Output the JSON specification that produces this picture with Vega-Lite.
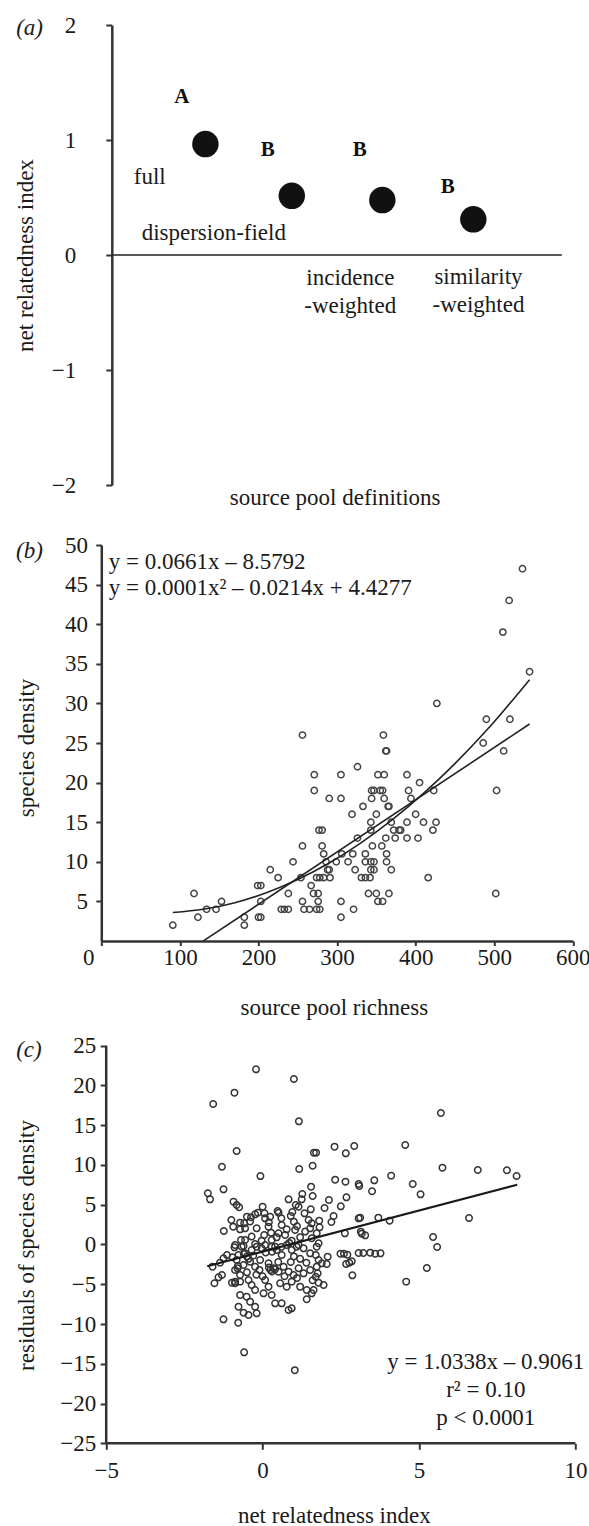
{
  "$schema": "https://vega.github.io/schema/vega-lite/v6.json",
  "autosize": {"type": "pad"},
  "padding": {"left": 14.3, "top": 14, "right": 0, "bottom": 0},
  "background": "white",
  "bounds": "flush",
  "spacing": 60,
  "config": {
    "font": "Liberation Serif",
    "view": {"stroke": null},
    "axis": {
      "labelFont": "Liberation Serif", "titleFont": "Liberation Serif",
      "labelFontSize": 23, "titleFontSize": 23, "titleFontWeight": "normal",
      "labelColor": "#1a1a1a", "titleColor": "#1a1a1a", "domainColor": "#333", "tickColor": "#333",
      "grid": false, "labelFlush": false, "labelOverlap": false
    },
    "text": {"font": "Liberation Serif", "color": "#1a1a1a"}
  },
  "datasets": {
    "a_points": [
      {"x": 1.04, "y": 0.965}, {"x": 2.0, "y": 0.515}, {"x": 3.006, "y": 0.478}, {"x": 4.017, "y": 0.31}
    ],
    "a_letters": [
      {"x": 0.778, "y": 1.374, "t": "A"}, {"x": 1.733, "y": 0.913, "t": "B"},
      {"x": 2.756, "y": 0.913, "t": "B"}, {"x": 3.733, "y": 0.591, "t": "B"}
    ],
    "a_labels": [
      {"x": 0.422, "y": 0.678, "t": "full"}, {"x": 1.133, "y": 0.191, "t": "dispersion-field"},
      {"x": 2.651, "y": -0.2, "t": "incidence"}, {"x": 2.649, "y": -0.443, "t": "-weighted"},
      {"x": 4.074, "y": -0.191, "t": "similarity"}, {"x": 4.074, "y": -0.435, "t": "-weighted"}
    ],
    "a_tag": [{"x": -1.063, "y": 1.974, "t": "(a)"}],
    "b_points": [
      {"x":91,"y":2},{"x":118,"y":6},{"x":123,"y":3},{"x":134,"y":4},{"x":146,"y":4},{"x":153,"y":5},{"x":182,"y":3},{"x":182,"y":2},
      {"x":199,"y":7},{"x":203,"y":7},{"x":200,"y":3},{"x":203,"y":3},{"x":203,"y":5},{"x":215,"y":9},{"x":225,"y":8},{"x":229,"y":4},
      {"x":233,"y":4},{"x":238,"y":4},{"x":238,"y":6},{"x":244,"y":10},{"x":254,"y":8},{"x":256,"y":5},{"x":256,"y":12},{"x":256,"y":26},
      {"x":258,"y":4},{"x":265,"y":4},{"x":267,"y":7},{"x":270,"y":6},{"x":271,"y":21},{"x":271,"y":19},{"x":274,"y":4},{"x":274,"y":8},
      {"x":276,"y":5},{"x":276,"y":6},{"x":278,"y":4},{"x":277,"y":14},{"x":281,"y":14},{"x":278,"y":8},{"x":281,"y":12},{"x":283,"y":11},
      {"x":283,"y":8},{"x":286,"y":10},{"x":288,"y":9},{"x":290,"y":9},{"x":290,"y":18},{"x":291,"y":8},{"x":299,"y":10},{"x":305,"y":21},
      {"x":305,"y":18},{"x":306,"y":11},{"x":305,"y":5},{"x":305,"y":3},{"x":314,"y":10},{"x":319,"y":16},{"x":320,"y":11},{"x":321,"y":4},
      {"x":323,"y":9},{"x":326,"y":22},{"x":326,"y":13},{"x":331,"y":8},{"x":333,"y":17},{"x":336,"y":8},{"x":336,"y":11},{"x":336,"y":10},
      {"x":340,"y":6},{"x":342,"y":8},{"x":343,"y":15},{"x":343,"y":14},{"x":343,"y":10},{"x":343,"y":9},{"x":344,"y":19},{"x":344,"y":18},
      {"x":345,"y":12},{"x":347,"y":10},{"x":347,"y":9},{"x":347,"y":19},{"x":350,"y":6},{"x":350,"y":16},{"x":352,"y":21},{"x":352,"y":5},
      {"x":355,"y":19},{"x":357,"y":12},{"x":358,"y":5},{"x":358,"y":19},{"x":359,"y":26},{"x":360,"y":21},{"x":360,"y":18},{"x":362,"y":24},
      {"x":363,"y":24},{"x":362,"y":13},{"x":363,"y":11},{"x":363,"y":10},{"x":365,"y":17},{"x":366,"y":6},{"x":366,"y":17},{"x":369,"y":15},
      {"x":369,"y":9},{"x":372,"y":14},{"x":374,"y":13},{"x":379,"y":14},{"x":381,"y":14},{"x":389,"y":21},{"x":389,"y":15},{"x":389,"y":13},
      {"x":391,"y":19},{"x":394,"y":18},{"x":400,"y":16},{"x":403,"y":13},{"x":405,"y":20},{"x":410,"y":15},{"x":416,"y":8},{"x":422,"y":14},
      {"x":423,"y":19},{"x":426,"y":15},{"x":427,"y":30},{"x":486,"y":25},{"x":490,"y":28},{"x":502,"y":6},{"x":503,"y":19},{"x":511,"y":39},
      {"x":512,"y":24},{"x":519,"y":43},{"x":520,"y":28},{"x":536,"y":47},{"x":545,"y":34}
    ],
    "b_lines": [
      {"fit": "linear", "x": 130, "y": 0.01}, {"fit": "linear", "x": 545, "y": 27.4},
      {"fit": "quadratic", "x": 91, "y": 3.6}, {"fit": "quadratic", "x": 130, "y": 4.01},
      {"fit": "quadratic", "x": 170, "y": 4.84}, {"fit": "quadratic", "x": 210, "y": 6.09},
      {"fit": "quadratic", "x": 250, "y": 7.76}, {"fit": "quadratic", "x": 290, "y": 9.85},
      {"fit": "quadratic", "x": 330, "y": 12.36}, {"fit": "quadratic", "x": 370, "y": 15.28},
      {"fit": "quadratic", "x": 410, "y": 18.63}, {"fit": "quadratic", "x": 450, "y": 22.39},
      {"fit": "quadratic", "x": 490, "y": 26.57}, {"fit": "quadratic", "x": 545, "y": 33.0}
    ],
    "b_text": [
      {"x": 9.5, "y": 47.9, "t": "y = 0.0661x – 8.5792"},
      {"x": 9.5, "y": 44.53, "t": "y = 0.0001x² – 0.0214x + 4.4277"}
    ],
    "b_tag": [{"x": -108.4, "y": 49.24, "t": "(b)"}],
    "c_points": [
      {"x":-0.21,"y":22.03},{"x":1.0,"y":20.81},{"x":-0.9,"y":19.09},{"x":-1.58,"y":17.67},{"x":1.16,"y":15.49},{"x":-0.83,"y":11.76},
      {"x":1.64,"y":11.55},{"x":1.71,"y":11.55},{"x":-1.3,"y":9.78},{"x":1.17,"y":9.5},{"x":1.6,"y":9.9},{"x":-0.07,"y":8.6},
      {"x":5.7,"y":16.54},{"x":4.56,"y":12.51},{"x":2.3,"y":12.3},{"x":2.93,"y":12.39},{"x":2.66,"y":11.46},{"x":5.75,"y":9.66},
      {"x":6.88,"y":9.37},{"x":7.81,"y":9.33},{"x":8.12,"y":8.61},{"x":4.11,"y":8.66},{"x":2.32,"y":8.15},{"x":2.65,"y":7.9},
      {"x":3.07,"y":7.61},{"x":3.09,"y":7.36},{"x":3.57,"y":8.07},{"x":3.5,"y":6.69},{"x":4.8,"y":7.61},{"x":5.05,"y":6.31},
      {"x":2.12,"y":5.59},{"x":2.68,"y":5.93},{"x":1.98,"y":4.59},{"x":2.5,"y":4.8},{"x":2.27,"y":3.58},{"x":6.6,"y":3.33},
      {"x":3.7,"y":3.37},{"x":4.06,"y":3.0},{"x":3.07,"y":3.29},{"x":3.12,"y":3.37},{"x":2.2,"y":2.83},{"x":1.82,"y":2.16},
      {"x":2.63,"y":1.4},{"x":3.17,"y":1.36},{"x":3.28,"y":1.15},{"x":3.14,"y":1.61},{"x":5.45,"y":0.94},{"x":5.58,"y":-0.31},
      {"x":2.49,"y":-1.15},{"x":2.6,"y":-1.15},{"x":2.71,"y":-1.28},{"x":3.07,"y":-1.07},{"x":3.22,"y":-1.07},{"x":3.44,"y":-1.03},
      {"x":3.6,"y":-1.15},{"x":3.77,"y":-1.11},{"x":2.08,"y":-1.53},{"x":2.67,"y":-2.45},{"x":2.77,"y":-2.29},{"x":2.85,"y":-2.12},
      {"x":1.7,"y":-1.32},{"x":1.79,"y":-1.95},{"x":1.89,"y":-2.37},{"x":2.05,"y":-2.45},{"x":2.87,"y":-3.88},{"x":5.25,"y":-2.96},
      {"x":4.59,"y":-4.67},{"x":1.76,"y":-3.63},{"x":1.7,"y":-4.05},{"x":1.79,"y":-4.8},{"x":1.95,"y":-5.09},{"x":1.63,"y":-5.72},
      {"x":1.55,"y":7.27},{"x":1.27,"y":6.35},{"x":1.6,"y":6.1},{"x":0.83,"y":5.68},{"x":0.0,"y":4.76},{"x":1.06,"y":4.97},
      {"x":1.15,"y":4.76},{"x":1.25,"y":5.68},{"x":1.54,"y":4.42},{"x":1.34,"y":3.92},{"x":0.95,"y":4.09},{"x":0.48,"y":4.21},
      {"x":0.51,"y":4.0},{"x":-0.15,"y":4.0},{"x":-0.24,"y":3.79},{"x":-0.5,"y":3.5},{"x":-0.37,"y":3.42},{"x":0.06,"y":3.92},
      {"x":0.08,"y":3.29},{"x":0.24,"y":3.5},{"x":1.81,"y":3.0},{"x":1.47,"y":3.08},{"x":1.57,"y":2.66},{"x":1.0,"y":2.87},
      {"x":0.61,"y":2.45},{"x":-0.59,"y":2.66},{"x":-0.72,"y":1.91},{"x":-0.56,"y":2.03},{"x":-0.19,"y":2.03},{"x":0.19,"y":2.24},
      {"x":0.27,"y":1.49},{"x":0.77,"y":1.91},{"x":0.51,"y":1.41},{"x":0.72,"y":1.2},{"x":1.04,"y":1.83},{"x":1.36,"y":1.62},
      {"x":1.52,"y":2.03},{"x":1.73,"y":1.41},{"x":-0.56,"y":0.57},{"x":-0.61,"y":-0.19},{"x":-0.03,"y":0.48},{"x":-0.24,"y":0.06},
      {"x":0.29,"y":0.57},{"x":0.4,"y":-0.27},{"x":0.93,"y":0.48},{"x":1.15,"y":-0.06},{"x":1.57,"y":0.78},{"x":1.79,"y":0.15},
      {"x":-0.9,"y":-0.36},
      {"x":-1.25,"y":6.94},{"x":-1.75,"y":6.44},{"x":-1.68,"y":5.68},{"x":-0.93,"y":5.39},{"x":-0.83,"y":4.97},{"x":-0.75,"y":4.68},
      {"x":-1.0,"y":3.08},{"x":-0.94,"y":2.24},{"x":-1.24,"y":1.7},{"x":-0.72,"y":2.75},{"x":-0.69,"y":0.57},
      {"x":-1.6,"y":-2.79},{"x":-1.36,"y":-2.28},{"x":-1.14,"y":-1.32},{"x":-1.25,"y":-1.74},{"x":-0.96,"y":-1.61},{"x":-0.77,"y":-1.32},
      {"x":-0.79,"y":-2.7},{"x":-0.88,"y":-3.21},{"x":-1.3,"y":-3.84},{"x":-1.41,"y":-4.13},{"x":-1.54,"y":-4.88},{"x":-0.98,"y":-4.8},
      {"x":-0.88,"y":-4.88},{"x":-0.72,"y":-3.84},{"x":-0.72,"y":-6.35},{"x":-1.25,"y":-9.41},{"x":-0.78,"y":-9.83},{"x":-0.59,"y":-13.56},
      {"x":1.03,"y":-15.8},
      {"x":-0.88,"y":-0.06},{"x":-0.67,"y":-0.27},{"x":-0.56,"y":-1.11},{"x":-0.35,"y":-0.69},{"x":-0.19,"y":-0.27},{"x":-0.03,"y":-0.48},
      {"x":0.08,"y":-0.06},{"x":0.29,"y":-0.27},{"x":0.45,"y":-0.69},{"x":0.61,"y":-1.32},{"x":0.77,"y":-0.06},{"x":0.93,"y":-0.69},
      {"x":1.09,"y":-0.27},{"x":1.31,"y":-0.48},{"x":1.52,"y":-1.11},{"x":1.73,"y":-0.27},{"x":-0.83,"y":-1.95},{"x":-0.61,"y":-2.58},
      {"x":-0.4,"y":-2.16},{"x":-0.24,"y":-2.79},{"x":-0.08,"y":-1.95},{"x":0.19,"y":-2.37},{"x":0.35,"y":-2.99},{"x":0.51,"y":-3.42},
      {"x":0.67,"y":-2.79},{"x":0.83,"y":-3.42},{"x":0.99,"y":-3.84},{"x":1.15,"y":-2.99},{"x":1.31,"y":-3.63},{"x":1.52,"y":-3.21},
      {"x":1.73,"y":-2.79},{"x":-0.88,"y":-4.67},{"x":-0.72,"y":-4.67},{"x":-0.45,"y":-4.46},{"x":-0.35,"y":-5.09},{"x":-0.24,"y":-5.72},
      {"x":0.08,"y":-4.46},{"x":0.19,"y":-5.3},{"x":0.56,"y":-4.88},{"x":0.77,"y":-5.3},{"x":0.93,"y":-4.67},{"x":1.2,"y":-5.3},
      {"x":1.41,"y":-5.72},{"x":1.57,"y":-6.14},{"x":-0.51,"y":-6.56},{"x":-0.4,"y":-7.19},{"x":-0.24,"y":-7.82},{"x":0.03,"y":-6.14},
      {"x":0.29,"y":-6.35},{"x":0.4,"y":-7.4},{"x":0.61,"y":-7.4},{"x":0.83,"y":-8.24},{"x":0.93,"y":-8.03},{"x":1.41,"y":-6.89},
      {"x":-0.45,"y":-8.87},{"x":-0.19,"y":-8.66},{"x":-0.77,"y":-7.82},{"x":-0.61,"y":-8.57},
      {"x":-0.5,"y":-1.5},{"x":-0.45,"y":-1.8},{"x":0.25,"y":-3.2},{"x":0.3,"y":-3.4},{"x":0.4,"y":-3.1},{"x":-0.6,"y":-1.2},
      {"x":0.2,"y":-2.9},{"x":-0.3,"y":-1.4},{"x":0.5,"y":-2.2},{"x":0.1,"y":-1.0},{"x":0.6,"y":-0.3},{"x":1.0,"y":-1.5},
      {"x":1.2,"y":-1.8},{"x":0.9,"y":-2.2},{"x":-0.1,"y":-3.2},{"x":-0.2,"y":-3.8},{"x":0.0,"y":-4.0},{"x":0.7,"y":-4.0},
      {"x":1.1,"y":-4.2},{"x":1.6,"y":-4.5},{"x":0.3,"y":-0.9},{"x":-0.8,"y":-3.0},{"x":-0.5,"y":-3.5},{"x":1.4,"y":-2.3},
      {"x":0.85,"y":0.2},{"x":0.45,"y":0.9},{"x":0.05,"y":1.2},{"x":-0.35,"y":1.0},{"x":1.2,"y":0.9},{"x":0.6,"y":3.3},
      {"x":0.9,"y":3.6},{"x":1.1,"y":2.3},{"x":-0.4,"y":2.9},{"x":0.2,"y":2.8}
    ],
    "c_line": [{"x": -1.77, "y": -2.74}, {"x": 8.14, "y": 7.51}],
    "c_text": [
      {"x": 7.135, "y": -14.78, "t": "y = 1.0338x – 0.9061"},
      {"x": 7.135, "y": -18.3, "t": "r² = 0.10"},
      {"x": 7.135, "y": -21.83, "t": "p < 0.0001"}
    ],
    "c_tag": [{"x": -7.88, "y": 24.46, "t": "(c)"}]
  },
  "vconcat": [
    {
      "width": 460.5,
      "height": 460,
      "layer": [
        {
          "data": {"name": "a_points"},
          "mark": {"type": "circle", "size": 700, "color": "#111", "opacity": 1},
          "encoding": {
            "x": {"field": "x", "type": "quantitative",
              "scale": {"domain": [-0.1167, 5.0], "nice": false, "zero": false},
              "axis": {"title": "source pool definitions", "domain": false, "ticks": false, "labels": false,
                "titleX": 233.4, "titleY": 12, "titleBaseline": "middle"}},
            "y": {"field": "y", "type": "quantitative",
              "scale": {"domain": [-2, 2], "nice": false, "zero": false},
              "axis": {"title": "net relatedness index", "values": [-2, -1, 0, 1, 2], "format": "d", "offset": -10.5,
                "domainWidth": 2.5, "tickSize": 6, "tickWidth": 2, "labelPadding": 30,
                "titleX": -86, "titleBaseline": "middle"}}
          }
        },
        {
          "data": {"values": [{}]},
          "mark": {"type": "rule", "color": "#222", "strokeWidth": 1.6},
          "encoding": {
            "x": {"datum": 0, "type": "quantitative"},
            "x2": {"datum": 5},
            "y": {"datum": 0, "type": "quantitative"}
          }
        },
        {
          "data": {"name": "a_letters"},
          "mark": {"type": "text", "fontSize": 21, "fontWeight": "bold", "align": "center", "baseline": "middle", "color": "#111"},
          "encoding": {
            "x": {"field": "x", "type": "quantitative"},
            "y": {"field": "y", "type": "quantitative"},
            "text": {"field": "t"}
          }
        },
        {
          "data": {"name": "a_labels"},
          "mark": {"type": "text", "fontSize": 23, "align": "center", "baseline": "middle"},
          "encoding": {
            "x": {"field": "x", "type": "quantitative"},
            "y": {"field": "y", "type": "quantitative"},
            "text": {"field": "t"}
          }
        },
        {
          "data": {"name": "a_tag"},
          "mark": {"type": "text", "fontSize": 23, "fontStyle": "italic", "align": "left", "baseline": "middle"},
          "encoding": {
            "x": {"field": "x", "type": "quantitative"},
            "y": {"field": "y", "type": "quantitative"},
            "text": {"field": "t"}
          }
        }
      ]
    },
    {
      "width": 471.5,
      "height": 396,
      "layer": [
        {
          "data": {"name": "b_points"},
          "mark": {"type": "point", "shape": "circle", "filled": false, "size": 40, "stroke": "#444", "strokeWidth": 1.5, "opacity": 1},
          "encoding": {
            "x": {"field": "x", "type": "quantitative",
              "scale": {"domain": [0, 600], "nice": false, "zero": false},
              "axis": {"title": "source pool richness", "values": [0, 100, 200, 300, 400, 500, 600],
                "domainWidth": 2.5, "tickSize": 4.5, "tickWidth": 2, "labelPadding": 1.5,
                "labelOffset": {"condition": {"test": "datum.value === 0", "value": -13}, "value": 0},
                "titleX": 232.5, "titleY": 67, "titleBaseline": "middle"}},
            "y": {"field": "y", "type": "quantitative",
              "scale": {"domain": [0, 50], "nice": false, "zero": false},
              "axis": {"title": "species density", "values": [5, 10, 15, 20, 25, 30, 35, 40, 45, 50],
                "domainWidth": 2.5, "tickSize": 5.5, "tickWidth": 2, "labelPadding": 8.4,
                "titleX": -75, "titleY": 202.5, "titleBaseline": "middle"}}
          }
        },
        {
          "data": {"name": "b_lines"},
          "mark": {"type": "line", "color": "#222", "strokeWidth": 1.6, "interpolate": "monotone"},
          "encoding": {
            "x": {"field": "x", "type": "quantitative"},
            "y": {"field": "y", "type": "quantitative"},
            "detail": {"field": "fit"},
            "order": {"field": "x"}
          }
        },
        {
          "data": {"name": "b_text"},
          "mark": {"type": "text", "fontSize": 23, "align": "left", "baseline": "middle"},
          "encoding": {
            "x": {"field": "x", "type": "quantitative"},
            "y": {"field": "y", "type": "quantitative"},
            "text": {"field": "t"}
          }
        },
        {
          "data": {"name": "b_tag"},
          "mark": {"type": "text", "fontSize": 23, "fontStyle": "italic", "align": "left", "baseline": "middle"},
          "encoding": {
            "x": {"field": "x", "type": "quantitative"},
            "y": {"field": "y", "type": "quantitative"},
            "text": {"field": "t"}
          }
        }
      ]
    },
    {
      "width": 474.1,
      "height": 442.3,
      "layer": [
        {
          "data": {"name": "c_points"},
          "mark": {"type": "point", "shape": "circle", "filled": false, "size": 42, "stroke": "#333", "strokeWidth": 1.5, "opacity": 1},
          "encoding": {
            "x": {"field": "x", "type": "quantitative",
              "scale": {"domain": [-5.157, 10], "nice": false, "zero": false},
              "axis": {"title": "net relatedness index", "values": [-5, 0, 5, 10], "domain": false,
                "tickSize": 6, "tickWidth": 2, "labelPadding": 10.3,
                "titleX": 232.5, "titleY": 72.7, "titleBaseline": "middle"}},
            "y": {"field": "y", "type": "quantitative",
              "scale": {"domain": [-25, 30.62], "nice": false, "zero": false},
              "axis": {"title": "residuals of species density", "values": [-25, -20, -15, -10, -5, 0, 5, 10, 15, 20, 25],
                "offset": -4.9, "domain": false, "tickSize": 6, "tickWidth": 2, "labelPadding": 4.4,
                "titleX": -80, "titleY": 244, "titleBaseline": "middle"}}
          }
        },
        {
          "data": {"values": [{}]},
          "mark": {"type": "rule", "color": "#333", "strokeWidth": 2.5},
          "encoding": {
            "x": {"datum": -5, "type": "quantitative"},
            "y": {"datum": -25, "type": "quantitative"},
            "y2": {"datum": 25}
          }
        },
        {
          "data": {"values": [{}]},
          "mark": {"type": "rule", "color": "#333", "strokeWidth": 2.5},
          "encoding": {
            "x": {"datum": -5, "type": "quantitative"},
            "x2": {"datum": 10},
            "y": {"datum": -25, "type": "quantitative"}
          }
        },
        {
          "data": {"name": "c_line"},
          "mark": {"type": "line", "color": "#1a1a1a", "strokeWidth": 2.2},
          "encoding": {
            "x": {"field": "x", "type": "quantitative"},
            "y": {"field": "y", "type": "quantitative"}
          }
        },
        {
          "data": {"name": "c_text"},
          "mark": {"type": "text", "fontSize": 23, "align": "center", "baseline": "middle"},
          "encoding": {
            "x": {"field": "x", "type": "quantitative"},
            "y": {"field": "y", "type": "quantitative"},
            "text": {"field": "t"}
          }
        },
        {
          "data": {"name": "c_tag"},
          "mark": {"type": "text", "fontSize": 23, "fontStyle": "italic", "align": "left", "baseline": "middle"},
          "encoding": {
            "x": {"field": "x", "type": "quantitative"},
            "y": {"field": "y", "type": "quantitative"},
            "text": {"field": "t"}
          }
        }
      ]
    }
  ]
}
